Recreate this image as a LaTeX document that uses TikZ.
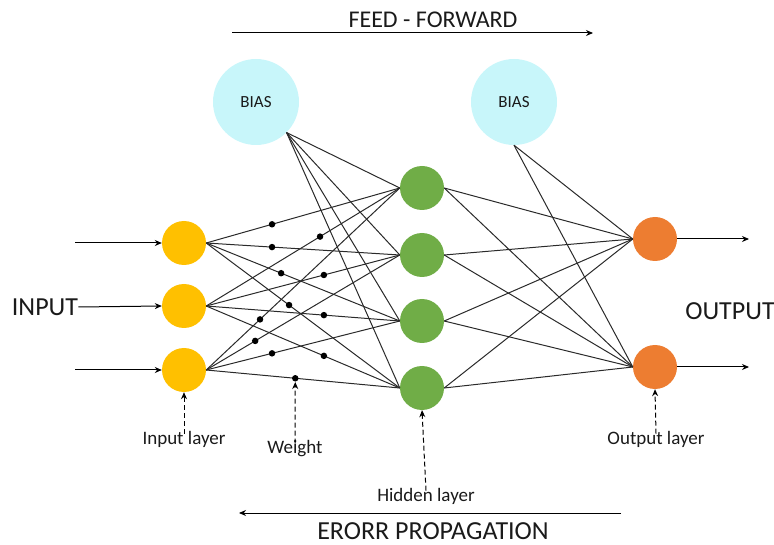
\documentclass[tikz,border=0pt]{standalone}
\usepackage{fontspec}
\setmainfont{Carlito}
\usetikzlibrary{arrows.meta}
\definecolor{inyel}{HTML}{FFC000}
\definecolor{hidgreen}{HTML}{70AD47}
\definecolor{outorange}{HTML}{ED7D31}
\definecolor{biascyan}{HTML}{C8F6FA}
\definecolor{wire}{HTML}{2A2A2A}
\definecolor{ink}{HTML}{1A1A1A}
\tikzset{
  neuron/.style={circle, minimum size=44pt, inner sep=0pt},
  biasnode/.style={circle, fill=biascyan, minimum size=86pt, inner sep=0pt, text=ink, font=\fontsize{17}{17}\selectfont},
  conn/.style={wire, line width=1pt},
  wdot/.style={circle, fill=black, minimum size=6.5pt, inner sep=0pt},
  tip/.style={-{Stealth[length=7pt,width=6pt]}},
  flowarrow/.style={black, line width=1pt, tip},
  dasharrow/.style={black, line width=1pt, dashed, dash pattern=on 5pt off 3pt, tip},
  smalllabel/.style={text=ink, font=\fontsize{19}{19}\selectfont, inner sep=0pt},
  biglabel/.style={text=ink, font=\fontsize{26}{26}\selectfont, inner sep=0pt}
}
\begin{document}
\begin{tikzpicture}[x=1pt,y=-1pt]
\useasboundingbox (0,0) rectangle (774,545);
% bias
\node[biasnode] (b1) at (256,102) {BIAS};
\node[biasnode] (b2) at (514,102) {BIAS};
% neurons
\node[neuron, fill=inyel] (i1) at (184,243) {};
\node[neuron, fill=inyel] (i2) at (184,306) {};
\node[neuron, fill=inyel] (i3) at (184,370) {};
\node[neuron, fill=hidgreen] (h1) at (422,188) {};
\node[neuron, fill=hidgreen] (h2) at (422,255) {};
\node[neuron, fill=hidgreen] (h3) at (422,321) {};
\node[neuron, fill=hidgreen] (h4) at (422,388) {};
\node[neuron, fill=outorange] (o1) at (655,239) {};
\node[neuron, fill=outorange] (o2) at (655,367) {};
% input to hidden with weights
\draw[conn] (i1.east) -- (h1.west) node[wdot, pos=0.34] (w11) {};
\draw[conn] (i1.east) -- (h2.west) node[wdot, pos=0.34] (w12) {};
\draw[conn] (i1.east) -- (h3.west) node[wdot, pos=0.387] (w13) {};
\draw[conn] (i1.east) -- (h4.west) node[wdot, pos=0.428] (w14) {};
\draw[conn] (i2.east) -- (h1.west) node[wdot, pos=0.588] (w21) {};
\draw[conn] (i2.east) -- (h2.west) node[wdot, pos=0.608] (w22) {};
\draw[conn] (i2.east) -- (h3.west) node[wdot, pos=0.608] (w23) {};
\draw[conn] (i2.east) -- (h4.west) node[wdot, pos=0.608] (w24) {};
\draw[conn] (i3.east) -- (h1.west) node[wdot, pos=0.278] (w31) {};
\draw[conn] (i3.east) -- (h2.west) node[wdot, pos=0.253] (w32) {};
\draw[conn] (i3.east) -- (h3.west) node[wdot, pos=0.34] (w33) {};
\draw[conn] (i3.east) -- (h4.west) node[wdot, pos=0.46] (w34) {};
% bias to hidden
\foreach \h in {h1,h2,h3,h4} \draw[conn] (b1.-45) -- (\h.west);
% hidden to output
\foreach \h in {h1,h2,h3,h4} {
  \draw[conn] (\h.east) -- (o1.west);
  \draw[conn] (\h.east) -- (o2.west);
}
% bias to output
\draw[conn] (b2.south) -- (o1.west);
\draw[conn] (b2.south) -- (o2.west);
% inputs
\node[biglabel] (inp) at (45,307) {INPUT};
\coordinate (x1) at (75,243);
\coordinate (x3) at (75,370);
\draw[flowarrow] (x1) -- (i1.west);
\draw[flowarrow] (inp.east) -- (i2.west);
\draw[flowarrow] (x3) -- (i3.west);
% outputs
\node[biglabel] (outp) at (730,311) {OUTPUT};
\coordinate (y1) at (749,239);
\coordinate (y2) at (749,367);
\draw[flowarrow] (o1.east) -- (y1);
\draw[flowarrow] (o2.east) -- (y2);
% top arrow
\node[text=ink, font=\fontsize{24}{24}\selectfont, inner sep=0pt] (ff) at (433,20) {FEED - FORWARD};
\coordinate (ffa) at (232,33);
\coordinate (ffb) at (593,33);
\draw[flowarrow] (ffa) -- (ffb);
% bottom arrow
\node[biglabel] (ep) at (433,531) {ERORR PROPAGATION};
\coordinate (epa) at (621,513);
\coordinate (epb) at (239,513);
\draw[flowarrow] (epa) -- (epb);
% layer labels
\node[smalllabel] (lin) at (184,439) {Input layer};
\node[smalllabel] (lw) at (295,449) {Weight};
\node[smalllabel] (lh) at (426,496) {Hidden layer};
\node[smalllabel] (lo) at (656,439) {Output layer};
\draw[dasharrow] ([yshift=-3pt]lin.north) -- (i3.south);
\draw[dasharrow] ([yshift=-3pt]lw.north) -- (w34.south);
\draw[dasharrow] ([yshift=-3pt]lh.north) -- (h4.south);
\draw[dasharrow] ([yshift=-3pt]lo.north) -- (o2.south);
\end{tikzpicture}
\end{document}
